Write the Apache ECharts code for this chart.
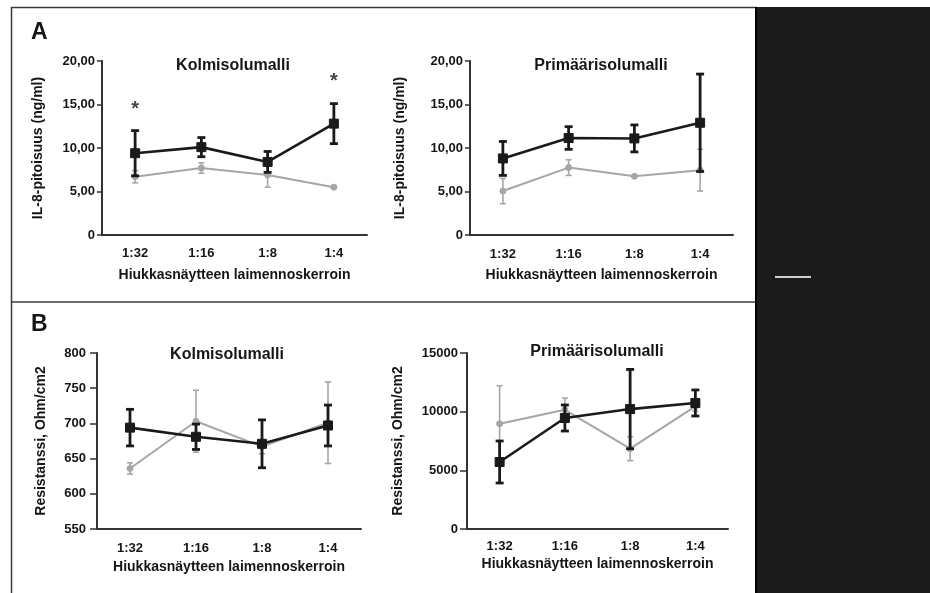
<!DOCTYPE html>
<html>
<head>
<meta charset="utf-8">
<script src="https://cdn.jsdelivr.net/npm/echarts@6/dist/echarts.min.js"></script>
<style>
html,body{margin:0;padding:0;background:#fff;}
#chart{width:930px;height:593px;}
</style>
</head>
<body>
<div id="chart"></div>
<script>
// ---------- DATA ----------
const categories = ['1:32', '1:16', '1:8', '1:4'];

// Panel A, Kolmisolumalli (IL-8, ng/ml)
const aKolmiBlack = [9.4, 10.1, 8.4, 12.8];
const aKolmiBlackErr = [2.6, 1.1, 1.2, 2.3];
const aKolmiGray = [6.7, 7.7, 6.9, 5.5];
const aKolmiGrayErr = [0.7, 0.6, 1.4, 0.15];
const aKolmiStars = [[0, 14.7], [3, 17.9]];

// Panel A, Primäärisolumalli (IL-8, ng/ml)
const aPrimBlack = [8.8, 11.15, 11.1, 12.9];
const aPrimBlackErr = [1.95, 1.3, 1.55, 5.6];
const aPrimGray = [5.05, 7.75, 6.75, 7.45];
const aPrimGrayErr = [1.45, 0.9, 0.1, 2.4];

// Panel B, Kolmisolumalli (Resistanssi, Ohm/cm2)
const bKolmiBlack = [694, 681, 671, 697];
const bKolmiBlackErr = [26, 18, 34, 29];
const bKolmiGray = [636, 703, 667, 701];
const bKolmiGrayErr = [8, 44, 10, 58];

// Panel B, Primäärisolumalli (Resistanssi, Ohm/cm2)
const bPrimBlack = [5710, 9460, 10220, 10740];
const bPrimBlackErr = [1790, 1110, 3380, 1110];
const bPrimGray = [8970, 10160, 6850, 10450];
const bPrimGrayErr = [3240, 1000, 1020, 400];

// Tick labels
const yTicksA = ['0', '5,00', '10,00', '15,00', '20,00'];
const yTicksBKolmi = ['550', '600', '650', '700', '750', '800'];
const yTicksBPrim = ['0', '5000', '10000', '15000'];

const xName = 'Hiukkasnäytteen laimennoskerroin';
const yNameA = 'IL-8-pitoisuus (ng/ml)';
const yNameB = 'Resistanssi, Ohm/cm2';

// ---------- CHART ----------
const FONT = '"Liberation Sans", Arial, sans-serif';
const TXT = '#151515';
const BLACK = '#1a1a1a';
const GRAY = '#a6a6a6';

const grids = [
  {left: 102, top: 61, width: 265, height: 174},
  {left: 470, top: 61, width: 263, height: 174},
  {left: 97, top: 353, width: 264, height: 176},
  {left: 467, top: 353, width: 261, height: 176}
];

function xAxis(gi, nameGap, margin) {
  return {
    type: 'category', gridIndex: gi, data: categories, boundaryGap: true,
    axisLine: {lineStyle: {color: '#333', width: 2}},
    axisTick: {alignWithLabel: true, length: 5, lineStyle: {color: '#333', width: 1.5}},
    axisLabel: {fontFamily: FONT, fontSize: 13, fontWeight: 'bold', color: TXT, margin: margin},
    name: xName, nameLocation: 'middle', nameGap: nameGap,
    nameTextStyle: {fontFamily: FONT, fontSize: 14, fontWeight: 'bold', color: TXT},
    splitLine: {show: false}
  };
}
function yAxis(gi, min, max, interval, labels, name, nameGap, margin, tickLen) {
  return {
    type: 'value', gridIndex: gi, min: min, max: max, interval: interval,
    axisLine: {show: true, lineStyle: {color: '#333', width: 2}},
    axisTick: {show: true, length: tickLen, lineStyle: {color: '#333', width: 1.5}},
    axisLabel: {fontFamily: FONT, fontSize: 13, fontWeight: 'bold', color: TXT, margin: margin,
      formatter: function (v) { return labels[Math.round((v - min) / interval)]; }},
    splitLine: {show: false},
    name: name, nameLocation: 'middle', nameGap: nameGap,
    nameTextStyle: {fontFamily: FONT, fontSize: 14, fontWeight: 'bold', color: TXT}
  };
}

function errSeries(idx, vals, errs, color, lw, cap, z) {
  return {
    type: 'custom', xAxisIndex: idx, yAxisIndex: idx, z: z, silent: true,
    encode: {x: 0, y: [1, 2]},
    data: vals.map(function (v, i) { return [i, v - errs[i], v + errs[i]]; }),
    renderItem: function (params, api) {
      const x = api.value(0);
      const lo = api.coord([x, api.value(1)]);
      const hi = api.coord([x, api.value(2)]);
      const st = {stroke: color, lineWidth: lw};
      return {type: 'group', children: [
        {type: 'line', shape: {x1: lo[0], y1: lo[1], x2: hi[0], y2: hi[1]}, style: st},
        {type: 'line', shape: {x1: lo[0] - cap, y1: lo[1], x2: lo[0] + cap, y2: lo[1]}, style: st},
        {type: 'line', shape: {x1: hi[0] - cap, y1: hi[1], x2: hi[0] + cap, y2: hi[1]}, style: st}
      ]};
    }
  };
}
function lineSeries(idx, vals, color, lw, symbol, size, z) {
  return {
    type: 'line', xAxisIndex: idx, yAxisIndex: idx, data: vals, z: z, silent: true,
    symbol: symbol, symbolSize: size, showSymbol: true,
    lineStyle: {color: color, width: lw},
    itemStyle: {color: color, borderColor: color, borderWidth: 1}
  };
}

function panel(idx, black, blackErr, gray, grayErr) {
  return [
    errSeries(idx, gray, grayErr, GRAY, 1.6, 3, 2),
    lineSeries(idx, gray, GRAY, 2, 'circle', 6, 3),
    errSeries(idx, black, blackErr, BLACK, 2.8, 4, 4),
    lineSeries(idx, black, BLACK, 2.6, 'rect', 9, 5)
  ];
}

const titleStyle = {fontFamily: FONT, fontSize: 16, fontWeight: 'bold', color: TXT};
const letterStyle = {fontFamily: FONT, fontSize: 23, fontWeight: 'bold', color: TXT};

const option = {
  backgroundColor: '#ffffff',
  animation: false,
  title: [
    {text: 'A', left: 26, top: 16, textStyle: letterStyle},
    {text: 'B', left: 26, top: 308, textStyle: letterStyle},
    {text: 'Kolmisolumalli', left: 228, top: 53, textAlign: 'center', textStyle: titleStyle},
    {text: 'Primäärisolumalli', left: 596, top: 53, textAlign: 'center', textStyle: titleStyle},
    {text: 'Kolmisolumalli', left: 222, top: 342, textAlign: 'center', textStyle: titleStyle},
    {text: 'Primäärisolumalli', left: 592, top: 339, textAlign: 'center', textStyle: titleStyle}
  ],
  grid: grids,
  xAxis: [xAxis(0, 33, 12), xAxis(1, 33, 13), xAxis(2, 31, 13), xAxis(3, 28, 11)],
  yAxis: [
    yAxis(0, 0, 20, 5, yTicksA, yNameA, 57, 7, 5),
    yAxis(1, 0, 20, 5, yTicksA, yNameA, 63, 7, 5),
    yAxis(2, 550, 800, 50, yTicksBKolmi, yNameB, 49, 11, 7),
    yAxis(3, 0, 15000, 5000, yTicksBPrim, yNameB, 62, 9, 7)
  ],
  graphic: [
    {type: 'rect', shape: {x: 757, y: 7, width: 173, height: 586}, style: {fill: '#1b1b1b'}, z: 100},
    {type: 'line', shape: {x1: 775, y1: 277, x2: 811, y2: 277}, style: {stroke: '#cfcfcf', lineWidth: 2}, z: 101},
    {type: 'line', shape: {x1: 11, y1: 7.5, x2: 757, y2: 7.5}, style: {stroke: '#3a3a3a', lineWidth: 1.5}, z: 100},
    {type: 'line', shape: {x1: 11.5, y1: 7, x2: 11.5, y2: 593}, style: {stroke: '#3a3a3a', lineWidth: 1.5}, z: 100},
    {type: 'line', shape: {x1: 11, y1: 302, x2: 757, y2: 302}, style: {stroke: '#3a3a3a', lineWidth: 1.5}, z: 100},
    {type: 'line', shape: {x1: 756, y1: 7, x2: 756, y2: 593}, style: {stroke: '#000', lineWidth: 2}, z: 102}
  ],
  series: [].concat(
    panel(0, aKolmiBlack, aKolmiBlackErr, aKolmiGray, aKolmiGrayErr),
    [{
      type: 'scatter', xAxisIndex: 0, yAxisIndex: 0, data: aKolmiStars, symbolSize: 0, z: 6, silent: true,
      label: {show: true, position: 'inside', formatter: '*', fontFamily: FONT, fontSize: 20,
        fontWeight: 'bold', color: TXT, offset: [0, 2]}
    }],
    panel(1, aPrimBlack, aPrimBlackErr, aPrimGray, aPrimGrayErr),
    panel(2, bKolmiBlack, bKolmiBlackErr, bKolmiGray, bKolmiGrayErr),
    panel(3, bPrimBlack, bPrimBlackErr, bPrimGray, bPrimGrayErr)
  )
};

const chart = echarts.init(document.getElementById('chart'), null, {renderer: 'canvas'});
chart.setOption(option);
</script>
</body>
</html>
